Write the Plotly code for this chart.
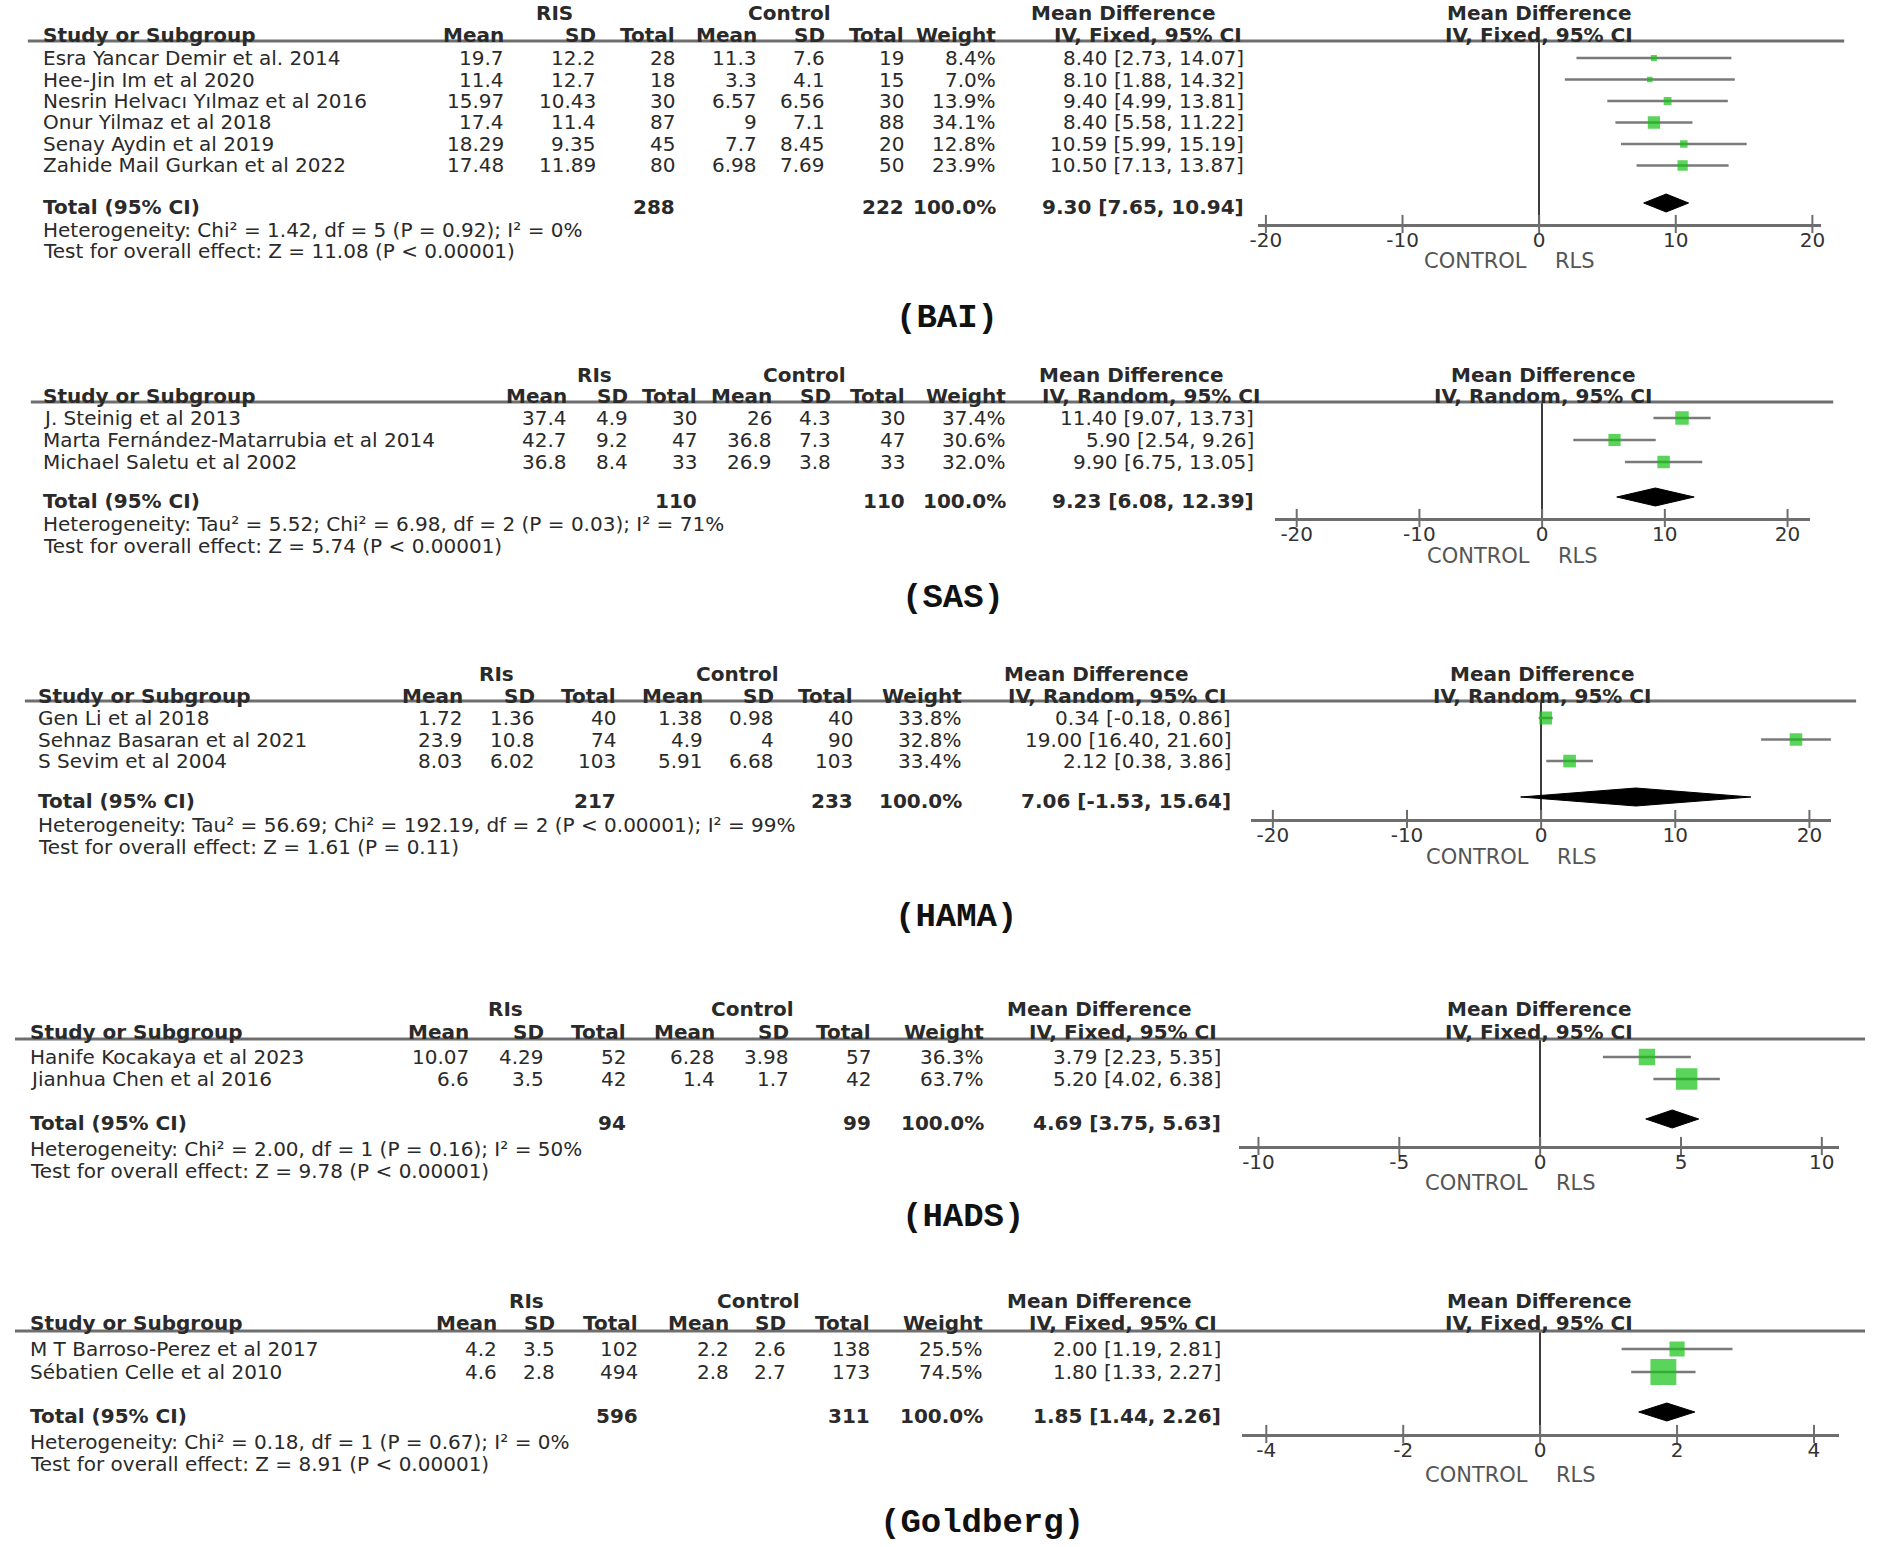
import math
import plotly.graph_objects as go

W, H = 1877, 1547

# ---------------- data ----------------
BAI_STUDY = ["Esra Yancar Demir et al. 2014", "Hee-Jin Im et al 2020", "Nesrin Helvacı Yılmaz et al 2016",
             "Onur Yilmaz et al 2018", "Senay Aydin et al 2019", "Zahide Mail Gurkan et al 2022"]
BAI_RLS_MEAN = [19.7, 11.4, 15.97, 17.4, 18.29, 17.48]
BAI_RLS_SD = [12.2, 12.7, 10.43, 11.4, 9.35, 11.89]
BAI_RLS_N = [28, 18, 30, 87, 45, 80]
BAI_CTL_MEAN = [11.3, 3.3, 6.57, 9, 7.7, 6.98]
BAI_CTL_SD = [7.6, 4.1, 6.56, 7.1, 8.45, 7.69]
BAI_CTL_N = [19, 15, 30, 88, 20, 50]
BAI_WEIGHT = [8.4, 7.0, 13.9, 34.1, 12.8, 23.9]
BAI_MD = [8.40, 8.10, 9.40, 8.40, 10.59, 10.50]
BAI_LO = [2.73, 1.88, 4.99, 5.58, 5.99, 7.13]
BAI_HI = [14.07, 14.32, 13.81, 11.22, 15.19, 13.87]
BAI_N_TOTAL = [288, 222]
BAI_POOLED = [9.30, 7.65, 10.94]
BAI_HET = "Heterogeneity: Chi² = 1.42, df = 5 (P = 0.92); I² = 0%"
BAI_TEST = "Test for overall effect: Z = 11.08 (P < 0.00001)"
BAI_TICKS = [-20, -10, 0, 10, 20]

SAS_STUDY = ["J. Steinig et al 2013", "Marta Fernández-Matarrubia et al 2014", "Michael Saletu et al 2002"]
SAS_RLS_MEAN = [37.4, 42.7, 36.8]
SAS_RLS_SD = [4.9, 9.2, 8.4]
SAS_RLS_N = [30, 47, 33]
SAS_CTL_MEAN = [26, 36.8, 26.9]
SAS_CTL_SD = [4.3, 7.3, 3.8]
SAS_CTL_N = [30, 47, 33]
SAS_WEIGHT = [37.4, 30.6, 32.0]
SAS_MD = [11.40, 5.90, 9.90]
SAS_LO = [9.07, 2.54, 6.75]
SAS_HI = [13.73, 9.26, 13.05]
SAS_N_TOTAL = [110, 110]
SAS_POOLED = [9.23, 6.08, 12.39]
SAS_HET = "Heterogeneity: Tau² = 5.52; Chi² = 6.98, df = 2 (P = 0.03); I² = 71%"
SAS_TEST = "Test for overall effect: Z = 5.74 (P < 0.00001)"
SAS_TICKS = [-20, -10, 0, 10, 20]

HAMA_STUDY = ["Gen Li et al 2018", "Sehnaz Basaran et al 2021", "S Sevim et al 2004"]
HAMA_RLS_MEAN = [1.72, 23.9, 8.03]
HAMA_RLS_SD = [1.36, 10.8, 6.02]
HAMA_RLS_N = [40, 74, 103]
HAMA_CTL_MEAN = [1.38, 4.9, 5.91]
HAMA_CTL_SD = [0.98, 4, 6.68]
HAMA_CTL_N = [40, 90, 103]
HAMA_WEIGHT = [33.8, 32.8, 33.4]
HAMA_MD = [0.34, 19.00, 2.12]
HAMA_LO = [-0.18, 16.40, 0.38]
HAMA_HI = [0.86, 21.60, 3.86]
HAMA_N_TOTAL = [217, 233]
HAMA_POOLED = [7.06, -1.53, 15.64]
HAMA_HET = "Heterogeneity: Tau² = 56.69; Chi² = 192.19, df = 2 (P < 0.00001); I² = 99%"
HAMA_TEST = "Test for overall effect: Z = 1.61 (P = 0.11)"
HAMA_TICKS = [-20, -10, 0, 10, 20]

HADS_STUDY = ["Hanife Kocakaya et al 2023", "Jianhua Chen et al 2016"]
HADS_RLS_MEAN = [10.07, 6.6]
HADS_RLS_SD = [4.29, 3.5]
HADS_RLS_N = [52, 42]
HADS_CTL_MEAN = [6.28, 1.4]
HADS_CTL_SD = [3.98, 1.7]
HADS_CTL_N = [57, 42]
HADS_WEIGHT = [36.3, 63.7]
HADS_MD = [3.79, 5.20]
HADS_LO = [2.23, 4.02]
HADS_HI = [5.35, 6.38]
HADS_N_TOTAL = [94, 99]
HADS_POOLED = [4.69, 3.75, 5.63]
HADS_HET = "Heterogeneity: Chi² = 2.00, df = 1 (P = 0.16); I² = 50%"
HADS_TEST = "Test for overall effect: Z = 9.78 (P < 0.00001)"
HADS_TICKS = [-10, -5, 0, 5, 10]

GOLD_STUDY = ["M T Barroso-Perez et al 2017", "Sébatien Celle et al 2010"]
GOLD_RLS_MEAN = [4.2, 4.6]
GOLD_RLS_SD = [3.5, 2.8]
GOLD_RLS_N = [102, 494]
GOLD_CTL_MEAN = [2.2, 2.8]
GOLD_CTL_SD = [2.6, 2.7]
GOLD_CTL_N = [138, 173]
GOLD_WEIGHT = [25.5, 74.5]
GOLD_MD = [2.00, 1.80]
GOLD_LO = [1.19, 1.33]
GOLD_HI = [2.81, 2.27]
GOLD_N_TOTAL = [596, 311]
GOLD_POOLED = [1.85, 1.44, 2.26]
GOLD_HET = "Heterogeneity: Chi² = 0.18, df = 1 (P = 0.67); I² = 0%"
GOLD_TEST = "Test for overall effect: Z = 8.91 (P < 0.00001)"
GOLD_TICKS = [-4, -2, 0, 2, 4]

PANELS = [
    dict(label="(BAI)", group="RIS", method="IV, Fixed, 95% CI",
         study=BAI_STUDY, rm=BAI_RLS_MEAN, rs=BAI_RLS_SD, rn=BAI_RLS_N, cm=BAI_CTL_MEAN, cs=BAI_CTL_SD,
         cn=BAI_CTL_N, w=BAI_WEIGHT, md=BAI_MD, lo=BAI_LO, hi=BAI_HI, ntot=BAI_N_TOTAL, pooled=BAI_POOLED,
         het=BAI_HET, test=BAI_TEST, ticks=BAI_TICKS),
    dict(label="(SAS)", group="RIs", method="IV, Random, 95% CI",
         study=SAS_STUDY, rm=SAS_RLS_MEAN, rs=SAS_RLS_SD, rn=SAS_RLS_N, cm=SAS_CTL_MEAN, cs=SAS_CTL_SD,
         cn=SAS_CTL_N, w=SAS_WEIGHT, md=SAS_MD, lo=SAS_LO, hi=SAS_HI, ntot=SAS_N_TOTAL, pooled=SAS_POOLED,
         het=SAS_HET, test=SAS_TEST, ticks=SAS_TICKS),
    dict(label="(HAMA)", group="RIs", method="IV, Random, 95% CI",
         study=HAMA_STUDY, rm=HAMA_RLS_MEAN, rs=HAMA_RLS_SD, rn=HAMA_RLS_N, cm=HAMA_CTL_MEAN, cs=HAMA_CTL_SD,
         cn=HAMA_CTL_N, w=HAMA_WEIGHT, md=HAMA_MD, lo=HAMA_LO, hi=HAMA_HI, ntot=HAMA_N_TOTAL, pooled=HAMA_POOLED,
         het=HAMA_HET, test=HAMA_TEST, ticks=HAMA_TICKS),
    dict(label="(HADS)", group="RIs", method="IV, Fixed, 95% CI",
         study=HADS_STUDY, rm=HADS_RLS_MEAN, rs=HADS_RLS_SD, rn=HADS_RLS_N, cm=HADS_CTL_MEAN, cs=HADS_CTL_SD,
         cn=HADS_CTL_N, w=HADS_WEIGHT, md=HADS_MD, lo=HADS_LO, hi=HADS_HI, ntot=HADS_N_TOTAL, pooled=HADS_POOLED,
         het=HADS_HET, test=HADS_TEST, ticks=HADS_TICKS),
    dict(label="(Goldberg)", group="RIs", method="IV, Fixed, 95% CI",
         study=GOLD_STUDY, rm=GOLD_RLS_MEAN, rs=GOLD_RLS_SD, rn=GOLD_RLS_N, cm=GOLD_CTL_MEAN, cs=GOLD_CTL_SD,
         cn=GOLD_CTL_N, w=GOLD_WEIGHT, md=GOLD_MD, lo=GOLD_LO, hi=GOLD_HI, ntot=GOLD_N_TOTAL, pooled=GOLD_POOLED,
         het=GOLD_HET, test=GOLD_TEST, ticks=GOLD_TICKS),
]

# ---------------- page geometry (pixels) ----------------
GEOM = [
    dict(name_x=34, cols=[500, 593, 672, 755, 823, 903, 995, 1245], grp_c=550, ctl_c=787, md_c=1122, iv_c=1147,
         group_y=13, head_y=35, line_y=41, line_x0=20, line_x1=1848, row0=58, dy=21.5, total_y=207,
         het_y=230, test_y=251, zero=1541, ppu=13.75, ax_x0=1258, ax_x1=1825, ax_y=224, ctrl_y=261,
         dia_y=203, fp_c=1541, lab=(945, 318), sq=2.1),
    dict(name_x=34, cols=[564, 625, 694, 770, 829, 904, 1005, 1255], grp_c=590, ctl_c=802, md_c=1130, iv_c=1150,
         group_y=375, head_y=396, line_y=402, line_x0=23, line_x1=1837, row0=418, dy=22, total_y=501,
         het_y=524, test_y=546, zero=1544, ppu=12.35, ax_x0=1275, ax_x1=1814, ax_y=518, ctrl_y=556,
         dia_y=497, fp_c=1545, lab=(951, 598), sq=2.2),
    dict(name_x=29, cols=[459, 531, 613, 700, 772, 851, 961, 1232], grp_c=492, ctl_c=734, md_c=1095, iv_c=1116,
         group_y=674, head_y=696, line_y=701, line_x0=17, line_x1=1860, row0=718, dy=21.5, total_y=801,
         het_y=825, test_y=847, zero=1543, ppu=13.5, ax_x0=1251, ax_x1=1835, ax_y=819, ctrl_y=857,
         dia_y=797, fp_c=1544, lab=(954, 917), sq=2.2),
    dict(name_x=21, cols=[465, 540, 623, 713, 787, 870, 983, 1222], grp_c=501, ctl_c=749, md_c=1098, iv_c=1122,
         group_y=1009, head_y=1032, line_y=1039, line_x0=7, line_x1=1869, row0=1057, dy=22, total_y=1123,
         het_y=1149, test_y=1171, zero=1542, ppu=28.35, ax_x0=1239, ax_x1=1843, ax_y=1146, ctrl_y=1183,
         dia_y=1119, fp_c=1541, lab=(961, 1217), sq=2.7),
    dict(name_x=21, cols=[493, 552, 635, 727, 784, 869, 982, 1222], grp_c=522, ctl_c=755, md_c=1098, iv_c=1122,
         group_y=1301, head_y=1323, line_y=1331, line_x0=7, line_x1=1869, row0=1349, dy=23, total_y=1416,
         het_y=1442, test_y=1464, zero=1542, ppu=68.9, ax_x0=1242, ax_x1=1843, ax_y=1434, ctrl_y=1475,
         dia_y=1412, fp_c=1541, lab=(980, 1523), sq=3.0),
]

FONT = "DejaVu Sans"
FS = 20
TEXT = "#2a2a2a"
GREY_LINE = "#6e6e6e"
CI_COL = "#7a7a7a"
GREEN = "#16c216"

annotations = []
shapes = []


def txt(x, y, s, anchor="right", bold=False, size=FS, color=TEXT, family=FONT):
    annotations.append(dict(x=x / W, y=1 - y / H, xref="paper", yref="paper",
                            text=f"<b>{s}</b>" if bold else s, showarrow=False,
                            xanchor=anchor, yanchor="middle", borderpad=0,
                            font=dict(family=family, size=size, color=color)))


def num(v):
    return f"{v:g}"


fig = go.Figure()
layout_axes = {}

for i, (p, g) in enumerate(zip(PANELS, GEOM), start=1):
    xa = "x" if i == 1 else f"x{i}"
    ya = "y" if i == 1 else f"y{i}"
    c = g["cols"]

    # table header
    txt(g["grp_c"], g["group_y"], p["group"], anchor="center", bold=True)
    txt(g["ctl_c"], g["group_y"], "Control", anchor="center", bold=True)
    txt(g["md_c"], g["group_y"], "Mean Difference", anchor="center", bold=True)
    txt(g["fp_c"], g["group_y"], "Mean Difference", anchor="center", bold=True)
    txt(g["name_x"], g["head_y"], "Study or Subgroup", anchor="left", bold=True)
    for x, h in zip(c[:7], ["Mean", "SD", "Total", "Mean", "SD", "Total", "Weight"]):
        txt(x, g["head_y"], h, bold=True)
    txt(g["iv_c"], g["head_y"], p["method"], anchor="center", bold=True)
    txt(g["fp_c"], g["head_y"], p["method"], anchor="center", bold=True)
    shapes.append(dict(type="line", xref="paper", yref="paper", x0=g["line_x0"] / W, x1=g["line_x1"] / W,
                       y0=1 - g["line_y"] / H, y1=1 - g["line_y"] / H,
                       line=dict(color=GREY_LINE, width=3)))

    # study rows
    rows_y = [g["row0"] + k * g["dy"] for k in range(len(p["study"]))]
    for k, ry in enumerate(rows_y):
        txt(g["name_x"], ry, p["study"][k], anchor="left")
        vals = [num(p["rm"][k]), num(p["rs"][k]), str(p["rn"][k]), num(p["cm"][k]), num(p["cs"][k]),
                str(p["cn"][k]), f"{p['w'][k]:.1f}%",
                f"{p['md'][k]:.2f} [{p['lo'][k]:.2f}, {p['hi'][k]:.2f}]"]
        for x, v in zip(c, vals):
            txt(x, ry, v)

    # total rows
    md, lo, hi = p["pooled"]
    txt(g["name_x"], g["total_y"], "Total (95% CI)", anchor="left", bold=True)
    txt(c[2], g["total_y"], str(p["ntot"][0]), bold=True)
    txt(c[5], g["total_y"], str(p["ntot"][1]), bold=True)
    txt(c[6], g["total_y"], "100.0%", bold=True)
    txt(c[7], g["total_y"], f"{md:.2f} [{lo:.2f}, {hi:.2f}]", bold=True)
    txt(g["name_x"], g["het_y"], p["het"], anchor="left")
    txt(g["name_x"], g["test_y"], p["test"], anchor="left")

    # forest plot marks
    cx, cy = [], []
    for k, ry in enumerate(rows_y):
        cx += [p["lo"][k], p["hi"][k], None]
        cy += [ry, ry, None]
    fig.add_trace(go.Scatter(x=cx, y=cy, mode="lines", line=dict(color=CI_COL, width=2.5),
                             xaxis=xa, yaxis=ya, hoverinfo="skip"))
    fig.add_trace(go.Scatter(x=p["md"], y=rows_y, mode="markers", xaxis=xa, yaxis=ya,
                             marker=dict(symbol="square", color=GREEN,
                                         size=[g["sq"] * math.sqrt(w) for w in p["w"]],
                                         line=dict(width=0))))
    dy = g["dia_y"]
    fig.add_trace(go.Scatter(x=[lo, md, hi, md, lo], y=[dy, dy - 9, dy, dy + 9, dy], mode="lines",
                             fill="toself", fillcolor="black", line=dict(color="black", width=1),
                             xaxis=xa, yaxis=ya))
    fig.add_trace(go.Scatter(x=p["ticks"], y=[g["ax_y"]] * len(p["ticks"]), mode="markers",
                             xaxis=xa, yaxis=ya, cliponaxis=False,
                             marker=dict(symbol="line-ns", size=13, line=dict(color=GREY_LINE, width=2))))

    r0 = (g["ax_x0"] - g["zero"]) / g["ppu"]
    r1 = (g["ax_x1"] - g["zero"]) / g["ppu"]
    layout_axes["xaxis" if i == 1 else f"xaxis{i}"] = dict(
        domain=[g["ax_x0"] / W, g["ax_x1"] / W], range=[r0, r1], anchor=ya,
        showline=True, linecolor=GREY_LINE, linewidth=3, showgrid=False,
        zeroline=True, zerolinecolor="#3c3c3c", zerolinewidth=2,
        tickvals=p["ticks"], ticktext=[str(t) for t in p["ticks"]], ticks="",
        ticklabelstandoff=-4, tickfont=dict(family=FONT, size=FS, color="#333333"), fixedrange=True)
    layout_axes["yaxis" if i == 1 else f"yaxis{i}"] = dict(
        domain=[1 - g["ax_y"] / H, 1 - g["line_y"] / H], range=[g["ax_y"], g["line_y"]],
        anchor=xa, visible=False, fixedrange=True)

    txt(g["zero"] - 11, g["ctrl_y"], "CONTROL", anchor="right", color="#555555", size=21)
    txt(g["zero"] + 15, g["ctrl_y"], "RLS", anchor="left", color="#555555", size=21)

    lx, ly = g["lab"]
    txt(lx, ly, p["label"], anchor="center", bold=True, size=34, color="#111111", family="Liberation Mono")

fig.update_layout(width=W, height=H, margin=dict(l=0, r=0, t=0, b=0), showlegend=False,
                  paper_bgcolor="white", plot_bgcolor="white",
                  annotations=annotations, shapes=shapes, **layout_axes)

fig.write_html("out.html", config={"displayModeBar": False},
               post_script="document.body.style.margin='0px';")
